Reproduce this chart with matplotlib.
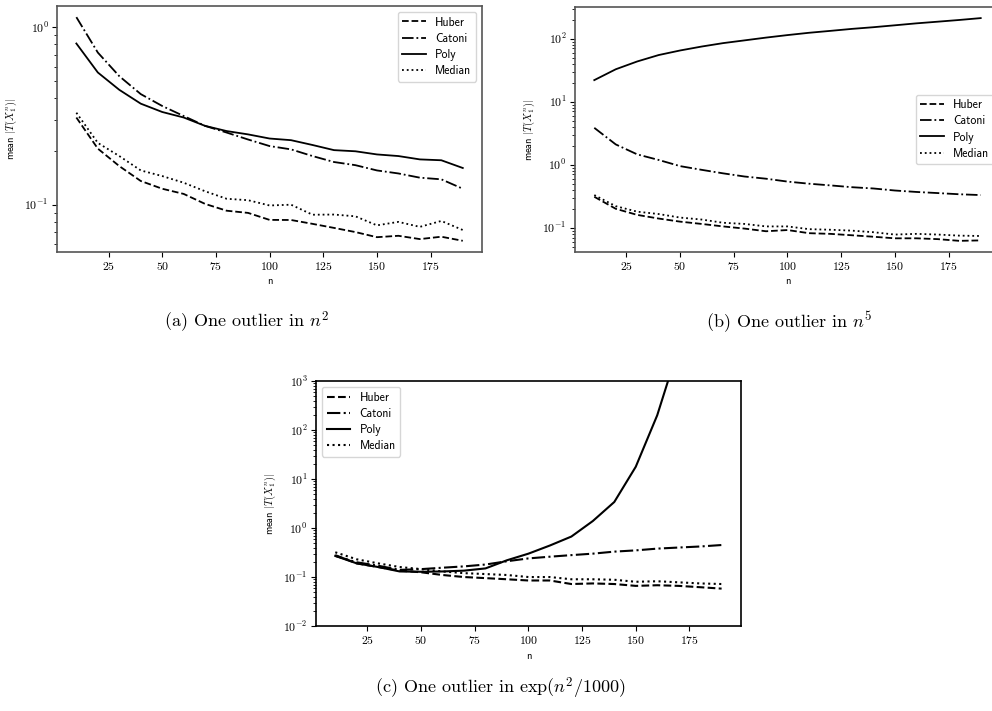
import numpy as np
import matplotlib
matplotlib.use("Agg")
import matplotlib.pyplot as plt

plt.rcParams['mathtext.fontset'] = 'cm'
plt.rcParams['font.family'] = 'cmr10'
plt.rcParams['axes.formatter.use_mathtext'] = True

n = [10, 20, 30, 40, 50, 60, 70, 80, 90, 100, 110, 120, 130, 140, 150, 160, 170, 180, 190]
labels = ['Huber', 'Catoni', 'Poly', 'Median']
styles = ['--', '-.', '-', ':']

# (a) one outlier in n^2
huber_a = [0.31, 0.207, 0.165, 0.136, 0.123, 0.115, 0.101, 0.0925, 0.0899, 0.0821,
           0.082, 0.078, 0.074, 0.0701, 0.0656, 0.0668, 0.064, 0.066, 0.0626]
catoni_a = [1.14, 0.72, 0.53, 0.42, 0.36, 0.316, 0.278, 0.255, 0.233, 0.214,
            0.205, 0.188, 0.174, 0.167, 0.156, 0.150, 0.142, 0.139, 0.123]
poly_a = [0.81, 0.556, 0.444, 0.371, 0.333, 0.31, 0.278, 0.26, 0.249, 0.236,
          0.231, 0.217, 0.203, 0.2, 0.192, 0.188, 0.18, 0.178, 0.161]
median_a = [0.33, 0.223, 0.188, 0.156, 0.145, 0.133, 0.119, 0.108, 0.106, 0.099,
            0.1, 0.0878, 0.088, 0.086, 0.0765, 0.080, 0.075, 0.081, 0.072]

# (b) one outlier in n^5
huber_b = [0.31, 0.20, 0.16, 0.14, 0.125, 0.115, 0.105, 0.097, 0.088, 0.092,
           0.082, 0.08, 0.076, 0.072, 0.068, 0.068, 0.066, 0.062, 0.063]
catoni_b = [3.85, 2.1, 1.46, 1.19, 0.95, 0.83, 0.73, 0.65, 0.60, 0.54,
            0.50, 0.47, 0.44, 0.42, 0.39, 0.37, 0.355, 0.34, 0.33]
poly_b = [22, 32.7, 43.5, 55, 65, 75, 85, 94, 104, 114,
          124, 133, 143, 152, 163, 175, 186, 198, 212]
median_b = [0.33, 0.22, 0.18, 0.165, 0.145, 0.135, 0.12, 0.115, 0.105, 0.105,
            0.095, 0.093, 0.09, 0.085, 0.078, 0.08, 0.078, 0.075, 0.074]

# (c) one outlier in exp(n^2/1000)
huber_c = [0.28, 0.19, 0.16, 0.135, 0.125, 0.11, 0.1, 0.095, 0.09, 0.085,
           0.085, 0.072, 0.074, 0.072, 0.066, 0.068, 0.066, 0.062, 0.058]
catoni_c = [0.27, 0.2, 0.17, 0.14, 0.145, 0.155, 0.165, 0.18, 0.21, 0.24,
            0.26, 0.28, 0.30, 0.33, 0.35, 0.38, 0.40, 0.42, 0.45]
poly_c = [0.27, 0.19, 0.16, 0.13, 0.128, 0.13, 0.135, 0.15, 0.22, 0.3,
          0.44, 0.67, 1.39, 3.4, 17.8, 200, 4900, 1.0e5, 3.0e6]
median_c = [0.32, 0.23, 0.19, 0.16, 0.145, 0.13, 0.12, 0.115, 0.11, 0.1,
            0.1, 0.09, 0.09, 0.088, 0.08, 0.082, 0.078, 0.074, 0.072]

fig = plt.figure(figsize=(9.92, 7.11), dpi=100)

ax_a = fig.add_axes([0.0575, 0.6456, 0.4285, 0.346])
ax_b = fig.add_axes([0.5796, 0.6456, 0.4285, 0.3446])
ax_c = fig.add_axes([0.3185, 0.1195, 0.4284, 0.3446])

panels = [
    (ax_a, [huber_a, catoni_a, poly_a, median_a], 'upper right', '#555555', 1.3),
    (ax_b, [huber_b, catoni_b, poly_b, median_b], 'center right', '#555555', 1.3),
    (ax_c, [huber_c, catoni_c, poly_c, median_c], 'upper left', 'black', 1.5),
]

for ax, series, loc, spc, lw in panels:
    for vals, lab, ls in zip(series, labels, styles):
        ax.plot(n, vals, ls, color='black', lw=lw, label=lab)
    ax.set_yscale('log')
    for s in ax.spines.values():
        s.set_color(spc)
        s.set_linewidth(1.2)
    ax.tick_params(labelsize=8.5, colors='black', pad=2.5)
    ax.set_xlabel('n', family='cmss10', fontsize=7.5, labelpad=3)
    ax.set_ylabel(r'mean $|T(X_1^n)|$', family='cmss10', fontsize=7.5)
    ax.set_xticks([25, 50, 75, 100, 125, 150, 175])
    ax.legend(loc=loc, prop={'family': 'cmss10', 'size': 8.5}, labelspacing=0.35)

ax_c.set_ylim(1e-2, 1e3)

fig.text(0.249, 0.547, r'(a) One outlier in $n^2$', fontsize=13, ha='center', va='center')
fig.text(0.795, 0.547, r'(b) One outlier in $n^5$', fontsize=13, ha='center', va='center')
fig.text(0.504, 0.032, r'(c) One outlier in $\exp(n^2/1000)$', fontsize=13, ha='center', va='center')

fig.savefig('out.png', dpi=100)
